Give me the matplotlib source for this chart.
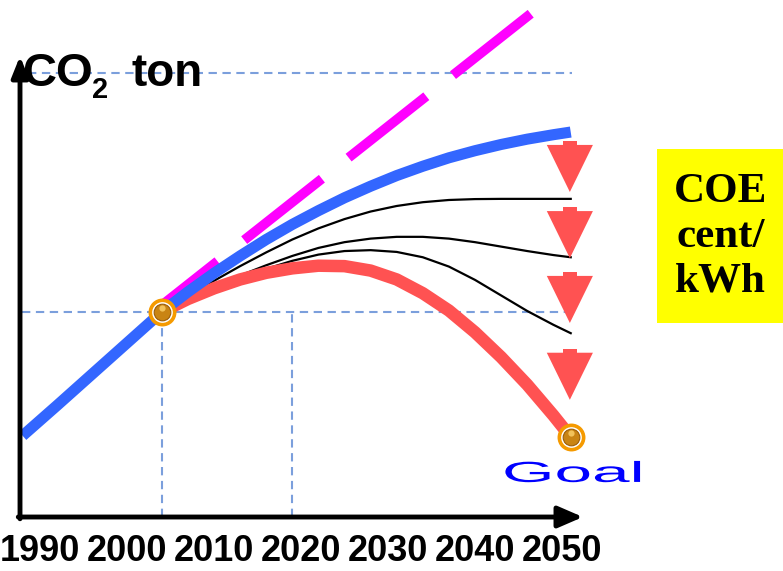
import numpy as np
import matplotlib
matplotlib.use('Agg')
import matplotlib.pyplot as plt
from matplotlib.patches import Rectangle, Polygon, PathPatch
from matplotlib.textpath import TextPath
from matplotlib.font_manager import FontProperties
from matplotlib.transforms import Affine2D

plt.rcParams['lines.scale_dashes'] = False

# year labels along the bottom axis
year_labels = [1990, 2000, 2010, 2020, 2030, 2040, 2050]

# business-as-usual CO2 path (blue)
bau_years = [1988, 1992, 1996, 2000, 2004, 2007, 2010, 2013, 2016, 2019, 2022,
             2025, 2028, 2031, 2034, 2037, 2040, 2043, 2046, 2049, 2051]
bau_co2 = [18.3, 25.2, 32.2, 39.2, 46.2, 50.7, 54.9, 58.8, 62.5, 65.9, 69.0,
           71.9, 74.5, 76.9, 79.0, 80.9, 82.5, 83.9, 85.1, 86.1, 86.7]

# straight-line trend (magenta dashes)
trend_years = [2004, 2046.5]
trend_co2 = [47.7, 113.5]

# reduction scenarios after 2004
scen_years = [2004, 2007, 2010, 2013, 2016, 2019, 2022, 2025, 2028, 2031,
              2034, 2037, 2040, 2043, 2046, 2049, 2051]
scen_a = [46.2, 49.8, 53.2, 56.5, 59.6, 62.5, 65.0, 67.1, 68.8, 70.05,
          70.9, 71.4, 71.6, 71.65, 71.65, 71.65, 71.65]
scen_b = [46.2, 49.2, 51.9, 54.4, 56.7, 58.8, 60.6, 61.9, 62.7, 63.1,
          63.1, 62.7, 61.9, 60.9, 59.9, 59.0, 58.5]
scen_c = [46.2, 49.2, 51.7, 53.9, 55.9, 57.7, 59.1, 59.9, 60.1, 59.7,
          58.5, 56.4, 53.4, 49.9, 46.4, 43.3, 41.4]
goal_path = [46.2, 49.1, 51.5, 53.5, 55.0, 56.0, 56.6, 56.5, 55.5, 53.5,
             50.4, 46.5, 41.6, 36.0, 29.8, 22.9, 18.0]

# reference levels
now_year, now_co2 = 2004, 46.2
goal_year, goal_co2 = 2051, 18.0
top_level = 100
mid_year = 2019

# down arrows (x, tip value)
arrow_x = 2050.9
arrow_tips = [73.2, 58.3, 43.7, 26.4]

BLUE = '#3366ff'
RED = '#ff5252'
GRID = '#7b9fdc'

fig = plt.figure(figsize=(7.83, 5.71), dpi=100)
ax = fig.add_axes([0, 0, 1, 1])
ax.set_xlim(1985.40, 2075.40)
ax.set_ylim(-12.16, 116.44)
ax.axis('off')

# dashed guide lines
gd = dict(color=GRID, lw=1.5, dashes=(6, 4), zorder=1)
ax.plot([1988.6, 2051.2], [top_level, top_level], **gd)
ax.plot([1987.9, 2050.6], [now_co2, now_co2], **gd)
ax.plot([now_year, now_year], [0, now_co2], **gd)
ax.plot([mid_year, mid_year], [0, now_co2], **gd)

# axes with arrow heads
y_arr = dict(arrowstyle='-|>,head_length=0.5,head_width=0.2', color='black',
             lw=3.5, mutation_scale=25, shrinkA=0, shrinkB=0)
x_arr = dict(arrowstyle='-|>,head_length=0.6,head_width=0.26', color='black',
             lw=3.5, mutation_scale=25, shrinkA=0, shrinkB=0)
ax.annotate('', xy=(1987.7, 103.8), xytext=(1987.7, -0.4), arrowprops=y_arr, zorder=5)
ax.annotate('', xy=(2052.4, 0), xytext=(1987.5, 0), arrowprops=x_arr, zorder=5)

# trend line
ax.plot(trend_years, trend_co2, color='#ff00ff', lw=7, zorder=2,
        linestyle=(20.2, (71.3, 24.5)), dash_capstyle='butt')

# scenarios
for s in (scen_a, scen_b, scen_c):
    ax.plot(scen_years, s, color='black', lw=1.6, zorder=3,
            solid_joinstyle='round')
ax.plot(scen_years, goal_path, color=RED, lw=9, zorder=4, solid_capstyle='butt',
        solid_joinstyle='round')
ax.plot(bau_years, bau_co2, color=BLUE, lw=8, zorder=4, solid_capstyle='butt',
        solid_joinstyle='round')

# red down arrows
aw, ah = 5.3, 10.6
sw, sh = 1.6, 0.9
for tip in arrow_tips:
    tri = Polygon([(arrow_x - aw / 2, tip + ah), (arrow_x + aw / 2, tip + ah),
                   (arrow_x, tip)], closed=True, color=RED, lw=0, zorder=6)
    stem = Rectangle((arrow_x - sw / 2, tip + ah - 0.1), sw, sh + 0.1,
                     color=RED, lw=0, zorder=6)
    ax.add_patch(tri)
    ax.add_patch(stem)

# beads marking now and the goal
for x, y in [(now_year, now_co2), (goal_year, goal_co2)]:
    ax.plot(x, y, 'o', ms=17.5, mfc='white', mec='#f59a00', mew=2.6, zorder=7)
    ax.plot(x, y, 'o', ms=12, mfc='#c98414', mec='#9a5c08', mew=0.8, zorder=8)
    ax.plot(x, y + 0.9, 'o', ms=4.5, mfc='#f2c25a', mec='none', zorder=9)

# labels
bold = dict(family='Liberation Sans', weight='bold', color='black')
ax.text(1988.0, 97.07, 'CO', fontsize=34, ha='left', va='baseline', zorder=10, **bold)
ax.text(1996.0, 94.37, '2', fontsize=21, ha='left', va='baseline', zorder=10, **bold)
ax.text(2000.5, 97.07, 'ton', fontsize=33, ha='left', va='baseline', zorder=10, **bold)

for yr in year_labels:
    ax.text(yr, -7.7, str(yr), fontsize=26, ha='center', va='center', **bold)

# stretched "Goal" lettering
tp = TextPath((0, 0), 'Goal', size=1, prop=FontProperties(family='Liberation Sans'))
goal_tf = Affine2D().scale(67.5 / 8.7, 29 / 4.44).translate(2043.1, 7.9) + ax.transData
ax.add_patch(PathPatch(tp, transform=goal_tf, color='#0000ff', lw=0, zorder=10))

# COE box
ax.add_patch(Rectangle((2060.92, 43.69), 14.48, 39.19, color='#ffff00', lw=0, zorder=1))
ax.text(2068.2, 63.1, 'COE\ncent/\nkWh', fontsize=31, ha='center', va='center',
        multialignment='center', linespacing=1.22, family='Liberation Serif',
        weight='bold', zorder=10)

fig.savefig('out.png', dpi=100)
